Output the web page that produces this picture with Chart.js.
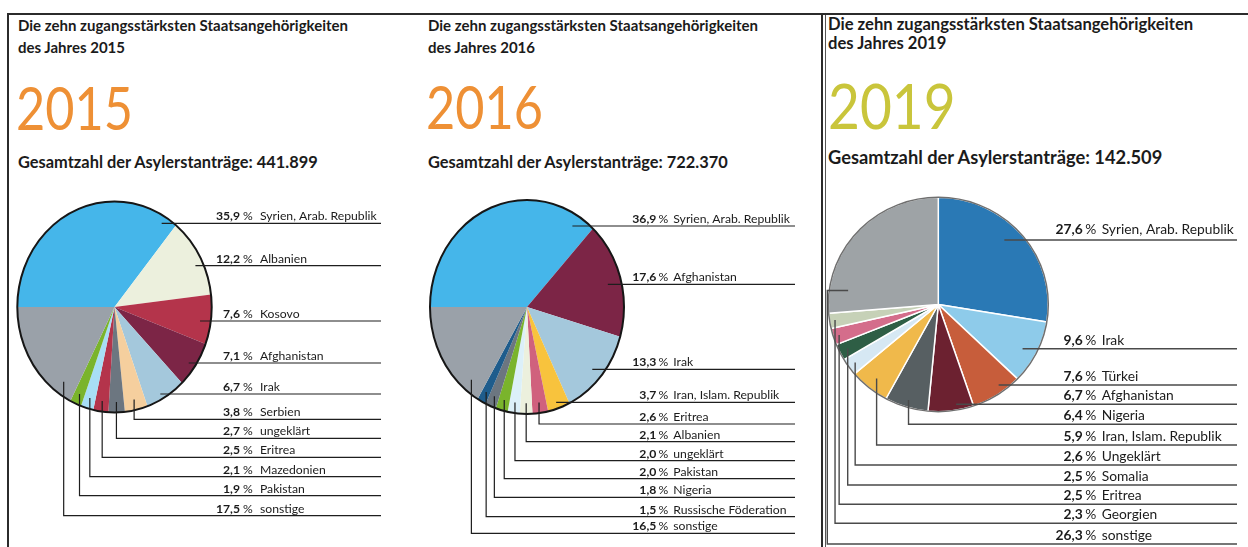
<!DOCTYPE html>
<html lang="de">
<head>
<meta charset="utf-8">
<title>Die zehn zugangsstärksten Staatsangehörigkeiten</title>
<script src="https://cdn.jsdelivr.net/npm/chart.js@4.4.1/dist/chart.umd.min.js"></script>
<style>
  html, body { margin: 0; padding: 0; background: #fff; }
  body { position: relative; width: 1248px; height: 547px; overflow: hidden; font-family: Lato, "Liberation Sans", sans-serif; color: #1b1b1b; }
  .rule { position: absolute; background: #2b2b2b; }
  .t { position: absolute; white-space: nowrap; transform-origin: 0 0; }
  .title { font-size: 15px; line-height: 21.6px; font-weight: 700; top: 15px; }
  .year { font-size: 60px; line-height: 60px; font-weight: 400; color: #ee9035; top: 77px; transform: scaleX(0.84); }
  .total { font-size: 16.4px; line-height: 19.7px; font-weight: 700; top: 152px; }
  .p3 .title { font-size: 16.6px; line-height: 19.5px; top: 14.5px; }
  .p3 .year { font-size: 62.5px; line-height: 62.5px; color: #c9c53b; top: 74px; transform: scaleX(0.88); }
  .p3 .total { font-size: 18.3px; line-height: 22px; top: 146px; }
  .chart { position: absolute; top: 180px; height: 367px; }
</style>
</head>
<body>
<div class="rule" style="left:8px; top:13px; width:1240px; height:2px;"></div>
<div class="rule" style="left:7px; top:13px; width:2px; height:534px;"></div>
<div class="rule" style="left:821px; top:13px; width:2px; height:534px;"></div>
<div class="rule" style="left:825px; top:15px; width:1px; height:532px; background:#555;"></div>

<div class="p1">
  <div class="t title" style="left:18px;">Die zehn zugangsstärksten Staatsangehörigkeiten<br>des Jahres 2015</div>
  <div class="t year" style="left:16px;">2015</div>
  <div class="t total" style="left:18px;">Gesamtzahl der Asylerstanträge: 441.899</div>
</div>
<div class="p2">
  <div class="t title" style="left:428px;">Die zehn zugangsstärksten Staatsangehörigkeiten<br>des Jahres 2016</div>
  <div class="t year" style="left:426px; top:76px;">2016</div>
  <div class="t total" style="left:428px;">Gesamtzahl der Asylerstanträge: 722.370</div>
</div>
<div class="p3">
  <div class="t title" style="left:828px;">Die zehn zugangsstärksten Staatsangehörigkeiten<br>des Jahres 2019</div>
  <div class="t year" style="left:828px;">2019</div>
  <div class="t total" style="left:828px;">Gesamtzahl der Asylerstanträge: 142.509</div>
</div>

<div class="chart" style="left:0px; width:415px;"><canvas id="pie2015"></canvas></div>
<div class="chart" style="left:415px; width:408px;"><canvas id="pie2016"></canvas></div>
<div class="chart" style="left:823px; width:425px;"><canvas id="pie2019"></canvas></div>

<script>
// Daten (Anteile in %)
const labels2015 = ['Syrien, Arab. Republik', 'Albanien', 'Kosovo', 'Afghanistan', 'Irak', 'Serbien', 'ungeklärt', 'Eritrea', 'Mazedonien', 'Pakistan', 'sonstige'];
const shares2015 = [35.9, 12.2, 7.6, 7.1, 6.7, 3.8, 2.7, 2.5, 2.1, 1.9, 17.5];

const labels2016 = ['Syrien, Arab. Republik', 'Afghanistan', 'Irak', 'Iran, Islam. Republik', 'Eritrea', 'Albanien', 'ungeklärt', 'Pakistan', 'Nigeria', 'Russische Föderation', 'sonstige'];
const shares2016 = [36.9, 17.6, 13.3, 3.7, 2.6, 2.1, 2.0, 2.0, 1.8, 1.5, 16.5];

const labels2019 = ['Syrien, Arab. Republik', 'Irak', 'Türkei', 'Afghanistan', 'Nigeria', 'Iran, Islam. Republik', 'Ungeklärt', 'Somalia', 'Eritrea', 'Georgien', 'sonstige'];
const shares2019 = [27.6, 9.6, 7.6, 6.7, 6.4, 5.9, 2.6, 2.5, 2.5, 2.3, 26.3];

// Farben
const colors2015 = ['#45b6ea', '#ecf0dd', '#b4344b', '#7c2546', '#a4c8dc', '#f5cf9e', '#6c7680', '#b4344b', '#a8def5', '#7ab42c', '#9aa1a9'];
const colors2016 = ['#45b6ea', '#7c2546', '#a4c8dc', '#f8c33d', '#d0617d', '#ecf0dd', '#dcf0f9', '#7ab42c', '#6c7680', '#1e5c8c', '#9aa1a9'];
const colors2019 = ['#2a79b5', '#8ecbea', '#c75d3b', '#6c2130', '#575f62', '#f0b94b', '#d6e8f3', '#2e5e45', '#d46d8b', '#c6d1b7', '#9ea3a6'];

// Beschriftungslinien: h = waagerecht aus dem Segment, sonst senkrecht nach unten
const lines2015 = [
    { mode: 'h', y: 223.3, k: 0.93 },
    { mode: 'h', y: 265.7, k: 0.92 },
    { mode: 'h', y: 321, k: 0.89 },
    { mode: 'h', y: 363, k: 0.93 },
    { mode: 'h', y: 394, k: 0.95 },
    { y: 419.3 }, { y: 438.3 }, { y: 457.3 }, { y: 476.7 }, { y: 495.7 },
    { y: 515.7, frac: 0.15, r: 0.88 }
];
const lines2016 = [
    { mode: 'h', y: 226, k: 0.89 },
    { mode: 'h', y: 284.3, k: 0.86 },
    { mode: 'h', y: 369.3, k: 0.89 },
    { mode: 'h', y: 402.3, k: 0.94 },
    { y: 424 }, { y: 441.7 }, { y: 460.7 }, { y: 478.7 }, { y: 497.3 }, { y: 516.7 },
    { y: 533.3, frac: 0.16, r: 0.89 }
];
const lines2019 = [
    { mode: 'h', y: 240, k: 0.85, dy: 6 },
    { mode: 'h', y: 348.7, k: 0.87 },
    { mode: 'h', y: 385, k: 0.93 },
    { mode: 'h', y: 404.3, k: 0.945 },
    { y: 424.3 }, { y: 445, r: 0.89 }, { y: 465 }, { y: 485, r: 0.92 }, { y: 504.3, r: 0.945 }, { y: 523.3, r: 0.95 },
    { y: 544, frac: 0.145, r: 0.83, bendX: 827.3 }
];

const fmt = (v) => v.toFixed(1).replace('.', ',');

// Plugin: Ellipse (gestauchter Kreis), Umriss, Linien und Texte
const pieLabels = {
    id: 'pieLabels',
    beforeDatasetsDraw(chart, args, o) {
        const a = chart.getDatasetMeta(0).data[0];
        const ctx = chart.ctx;
        ctx.save();
        ctx.translate(a.x, a.y);
        ctx.scale(o.sx, o.sy);
        ctx.translate(-a.x, -a.y);
    },
    afterDatasetsDraw(chart, args, o) {
        const ctx = chart.ctx;
        ctx.restore();
        const arcs = chart.getDatasetMeta(0).data;
        const cx = arcs[0].x, cy = arcs[0].y, R = arcs[0].outerRadius;
        const rx = R * o.sx, ry = R * o.sy;

        ctx.save();
        ctx.beginPath();
        ctx.ellipse(cx, cy, rx, ry, 0, 0, Math.PI * 2);
        ctx.lineWidth = o.outlineWidth;
        ctx.strokeStyle = o.outlineColor;
        ctx.stroke();

        const values = chart.data.datasets[0].data;
        const names = chart.data.labels;
        const endX = o.endX - o.left;
        const pctX = o.pctX - o.left;

        arcs.forEach((a, i) => {
            const L = o.lines[i];
            const lineY = L.y - o.top;
            let pts;
            if (L.mode === 'h') {
                const k = L.k ?? 0.92;
                const d = (lineY - cy) / ry;
                const ax = cx + rx * Math.sqrt(Math.max(k * k - d * d, 0));
                pts = [[ax, lineY], [endX, lineY]];
            } else {
                const phi = a.startAngle + (a.endAngle - a.startAngle) * (L.frac ?? 0.5);
                const r = L.r ?? o.r;
                const ax = cx + Math.cos(phi) * rx * r;
                const ay = cy + Math.sin(phi) * ry * r;
                const bx = L.bendX !== undefined ? L.bendX - o.left : ax;
                pts = [[ax, ay], [bx, ay], [bx, lineY], [endX, lineY]];
            }
            ctx.beginPath();
            pts.forEach((p, j) => j ? ctx.lineTo(p[0], p[1]) : ctx.moveTo(p[0], p[1]));
            ctx.lineWidth = o.lineWidth;
            ctx.strokeStyle = o.lineColor;
            ctx.lineJoin = 'miter';
            ctx.stroke();

            const ty = lineY - (L.dy ?? o.textDy);
            ctx.fillStyle = '#1b1b1b';
            ctx.textBaseline = 'alphabetic';
            ctx.font = `bold ${o.fontSize}px Lato, "Liberation Sans", sans-serif`;
            ctx.textAlign = 'right';
            ctx.fillText(fmt(values[i]), pctX - o.numGap, ty);
            ctx.font = `${o.fontSize}px Lato, "Liberation Sans", sans-serif`;
            ctx.textAlign = 'center';
            ctx.fillText('%', pctX, ty);
            ctx.textAlign = 'left';
            ctx.fillText(names[i], pctX + o.nameGap, ty);
        });
        ctx.restore();
    }
};

function makePie(id, labels, values, colors, geo) {
    const el = document.getElementById(id);
    const W = el.parentNode.clientWidth, H = el.parentNode.clientHeight;
    const R = Math.max(geo.rx, geo.ry);
    const cx = geo.cx - geo.left, cy = geo.cy - geo.top;
    return new Chart(el, {
        type: 'pie',
        data: {
            labels: labels,
            datasets: [{
                data: values,
                backgroundColor: colors,
                borderColor: geo.sliceBorder,
                borderWidth: geo.sliceBorderWidth,
                clip: false
            }]
        },
        options: {
            responsive: true,
            maintainAspectRatio: false,
            animation: false,
            events: [],
            rotation: geo.rotation,
            radius: R,
            layout: {
                padding: { left: cx - R - 2, right: W - cx - R - 2, top: cy - R - 2, bottom: H - cy - R - 2 }
            },
            plugins: {
                legend: { display: false },
                tooltip: { enabled: false },
                pieLabels: {
                    sx: geo.rx / R, sy: geo.ry / R,
                    left: geo.left, top: geo.top,
                    lines: geo.lines,
                    endX: geo.endX, pctX: geo.pctX,
                    numGap: geo.numGap, nameGap: geo.nameGap,
                    fontSize: geo.fontSize, textDy: geo.textDy,
                    r: geo.r,
                    lineWidth: geo.lineWidth, lineColor: geo.lineColor,
                    outlineWidth: geo.outlineWidth, outlineColor: geo.outlineColor
                }
            }
        },
        plugins: [pieLabels]
    });
}

makePie('pie2015', labels2015, shares2015, colors2015, {
    left: 0, top: 180, cx: 114.5, cy: 307, rx: 97.2, ry: 105.5, rotation: -90,
    lines: lines2015, endX: 381, pctX: 248, numGap: 8, nameGap: 12, fontSize: 12.2, textDy: 3, r: 0.9,
    sliceBorder: 'rgba(0,0,0,0)', sliceBorderWidth: 0,
    lineWidth: 1.2, lineColor: '#1e1e1e', outlineWidth: 2, outlineColor: '#161616'
});
makePie('pie2016', labels2016, shares2016, colors2016, {
    left: 415, top: 180, cx: 527, cy: 307, rx: 97, ry: 107, rotation: -90,
    lines: lines2016, endX: 795, pctX: 663.3, numGap: 7, nameGap: 10, fontSize: 12.2, textDy: 3, r: 0.9,
    sliceBorder: 'rgba(0,0,0,0)', sliceBorderWidth: 0,
    lineWidth: 1.2, lineColor: '#1e1e1e', outlineWidth: 2, outlineColor: '#161616'
});
makePie('pie2019', labels2019, shares2019, colors2019, {
    left: 823, top: 180, cx: 938.3, cy: 304.5, rx: 110, ry: 107.2, rotation: 0,
    lines: lines2019, endX: 1237, pctX: 1090.7, numGap: 8, nameGap: 11, fontSize: 13.8, textDy: 4, r: 0.93,
    sliceBorder: '#ffffff', sliceBorderWidth: 1.5,
    lineWidth: 1.4, lineColor: '#4a4a4a', outlineWidth: 1.5, outlineColor: '#6f6f6f'
});
</script>
</body>
</html>
